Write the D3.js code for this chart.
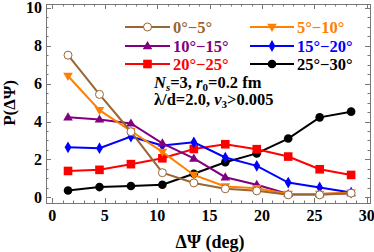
<!DOCTYPE html>
<html>
<head>
<meta charset="utf-8">
<script src="https://cdn.jsdelivr.net/npm/d3@7"></script>
<style>
  body { margin: 0; background: #fff; }
  svg { display: block; }
  svg text { font-family: "Liberation Serif", "Times New Roman", serif; font-weight: bold; }
</style>
</head>
<body>
<div id="chart"></div>
<script>
// Data
const xBins = [1.5, 4.5, 7.5, 10.5, 13.5, 16.5, 19.5, 22.5, 25.5, 28.5];
const p0to5   = [7.5, 5.43, 3.46, 1.3, 0.76, 0.45, 0.34, 0.13, 0.13, 0.22];
const p5to10  = [6.4, 4.6, 3.5, 2.4, 1.18, 0.57, 0.48, 0.18, 0.18, 0.25];
const p10to15 = [4.22, 4.11, 3.9, 2.85, 2.05, 1.06, 0.66, 0.18, 0.17, 0.22];
const p15to20 = [2.64, 2.59, 3.2, 2.73, 2.9, 2.1, 1.66, 0.78, 0.52, 0.25];
const p20to25 = [1.39, 1.45, 1.75, 2.06, 2.55, 2.8, 2.54, 2.15, 1.48, 1.18];
const p25to30 = [0.36, 0.54, 0.6, 0.66, 1.24, 1.85, 2.32, 3.1, 4.22, 4.52];
const seriesLabels = ["0°−5°", "5°−10°", "10°−15°", "15°−20°", "20°−25°", "25°−30°"];
const xTicks = [0, 5, 10, 15, 20, 25, 30];
const yTicks = [0, 2, 4, 6, 8, 10];

var width = 374, height = 252;
var plotLeft = 46, plotRight = 370, plotTop = 4, plotBottom = 203;

var series = [
  { name: seriesLabels[0], values: p0to5,   color: "#996633", marker: "openCircle" },
  { name: seriesLabels[1], values: p5to10,  color: "#ff8000", marker: "triangleDown" },
  { name: seriesLabels[2], values: p10to15, color: "#800080", marker: "triangleUp" },
  { name: seriesLabels[3], values: p15to20, color: "#0000ff", marker: "diamond" },
  { name: seriesLabels[4], values: p20to25, color: "#ff0000", marker: "square" },
  { name: seriesLabels[5], values: p25to30, color: "#000000", marker: "circle" }
];

var svg = d3.select("#chart").append("svg")
  .attr("width", width)
  .attr("height", height);

var x = d3.scaleLinear().domain([-0.6, 30.3]).range([plotLeft, plotRight]);
var y = d3.scaleLinear().domain([-0.3, 10.2]).range([plotBottom, plotTop]);

// Frame with inward ticks
var frameColor = "#777";
svg.append("rect")
  .attr("x", plotLeft + 0.5).attr("y", plotTop + 0.5)
  .attr("width", plotRight - plotLeft).attr("height", plotBottom - plotTop)
  .attr("fill", "none").attr("stroke", frameColor).attr("stroke-width", 1);

var xMinor = d3.range(0, 31, 1);
var yMinor = d3.range(0, 10.01, 0.5);

function drawXTicks(g, vals, len) {
  vals.forEach(function (v) {
    var px = Math.round(x(v)) + 0.5;
    g.append("line").attr("x1", px).attr("x2", px).attr("y1", plotBottom).attr("y2", plotBottom - len);
    g.append("line").attr("x1", px).attr("x2", px).attr("y1", plotTop).attr("y2", plotTop + len);
  });
}
function drawYTicks(g, vals, len) {
  vals.forEach(function (v) {
    var py = Math.round(y(v)) + 0.5;
    g.append("line").attr("y1", py).attr("y2", py).attr("x1", plotLeft).attr("x2", plotLeft + len);
    g.append("line").attr("y1", py).attr("y2", py).attr("x1", plotRight).attr("x2", plotRight - len);
  });
}
var tg = svg.append("g").attr("stroke", frameColor).attr("stroke-width", 1);
drawXTicks(tg, xMinor, 2.5);
drawXTicks(tg, xTicks, 5);
drawYTicks(tg, yMinor, 2.5);
drawYTicks(tg, yTicks, 5);

// Tick labels
svg.append("g").selectAll("text").data(xTicks).enter().append("text")
  .attr("x", function (d) { return x(d); })
  .attr("y", 221)
  .attr("text-anchor", "middle")
  .attr("font-size", 16)
  .text(function (d) { return d; });

svg.append("g").selectAll("text").data(yTicks).enter().append("text")
  .attr("x", 42)
  .attr("y", function (d) { return y(d) + 5.5; })
  .attr("text-anchor", "end")
  .attr("font-size", 16)
  .text(function (d) { return d; });

// Axis titles
svg.append("text")
  .attr("x", 210).attr("y", 248)
  .attr("text-anchor", "middle")
  .attr("font-size", 18)
  .text("ΔΨ (deg)");

svg.append("text")
  .attr("transform", "translate(15,103)rotate(-90)")
  .attr("text-anchor", "middle")
  .attr("font-size", 17)
  .text("P(ΔΨ)");

// Markers
function drawMarker(g, type, cx, cy, color) {
  switch (type) {
    case "openCircle":
      g.append("circle").attr("cx", cx).attr("cy", cy).attr("r", 4)
        .attr("fill", "#fff").attr("stroke", color).attr("stroke-width", 1);
      break;
    case "circle":
      g.append("circle").attr("cx", cx).attr("cy", cy).attr("r", 4.3).attr("fill", color);
      break;
    case "square":
      g.append("rect").attr("x", cx - 4.3).attr("y", cy - 4.3)
        .attr("width", 8.6).attr("height", 8.6).attr("fill", color);
      break;
    case "diamond":
      g.append("path").attr("d", d3.symbol(d3.symbolDiamond, 40)()).attr("transform", "translate(" + cx + "," + cy + ")").attr("fill", color);
      break;
    case "triangleUp":
      g.append("path").attr("d", "M0,-5L4.8,3.2L-4.8,3.2Z").attr("transform", "translate(" + cx + "," + cy + ")").attr("fill", color);
      break;
    case "triangleDown":
      g.append("path").attr("d", "M0,5L4.8,-3.2L-4.8,-3.2Z").attr("transform", "translate(" + cx + "," + cy + ")").attr("fill", color);
      break;
  }
}

var line = d3.line()
  .x(function (d) { return x(d[0]); })
  .y(function (d) { return y(d[1]); });

// draw in order so black is at the bottom, brown on top
var drawOrder = [5, 4, 3, 2, 1, 0];
drawOrder.forEach(function (i) {
  var s = series[i];
  var pts = xBins.map(function (v, k) { return [v, s.values[k]]; });
  var g = svg.append("g");
  g.append("path").attr("d", line(pts))
    .attr("fill", "none").attr("stroke", s.color).attr("stroke-width", 2);
  pts.forEach(function (p) { drawMarker(g, s.marker, x(p[0]), y(p[1]), s.color); });
});

// Legend
var legCols = [{ x1: 125, x2: 170, tx: 173 }, { x1: 250, x2: 294, tx: 297 }];
var legRows = [27, 46, 64];
series.forEach(function (s, i) {
  var col = legCols[i % 2], rowY = legRows[Math.floor(i / 2)];
  var g = svg.append("g");
  g.append("line").attr("x1", col.x1).attr("x2", col.x2).attr("y1", rowY).attr("y2", rowY)
    .attr("stroke", s.color).attr("stroke-width", 2.2);
  drawMarker(g, s.marker, (col.x1 + col.x2) / 2, rowY, s.color);
  g.append("text").attr("x", col.tx).attr("y", rowY + 6)
    .attr("font-size", 16.5).attr("fill", s.color).text(s.name);
});

// Annotation
var ann = svg.append("text").attr("x", 154).attr("y", 88).attr("font-size", 16.5);
ann.append("tspan").attr("font-style", "italic").text("N");
ann.append("tspan").attr("font-style", "italic").attr("font-size", 11).attr("dy", 3).text("s");
ann.append("tspan").attr("dy", -3).text("=3, ");
ann.append("tspan").attr("font-style", "italic").text("r");
ann.append("tspan").attr("font-size", 11).attr("dy", 3).text("0");
ann.append("tspan").attr("dy", -3).text("=0.2 fm");

var ann2 = svg.append("text").attr("x", 154).attr("y", 105).attr("font-size", 16.5);
ann2.append("tspan").text("λ/d=2.0, ");
ann2.append("tspan").attr("font-style", "italic").text("v");
ann2.append("tspan").attr("font-size", 11).attr("dy", 3).text("3");
ann2.append("tspan").attr("dy", -3).text(">0.005");
</script>
</body>
</html>
